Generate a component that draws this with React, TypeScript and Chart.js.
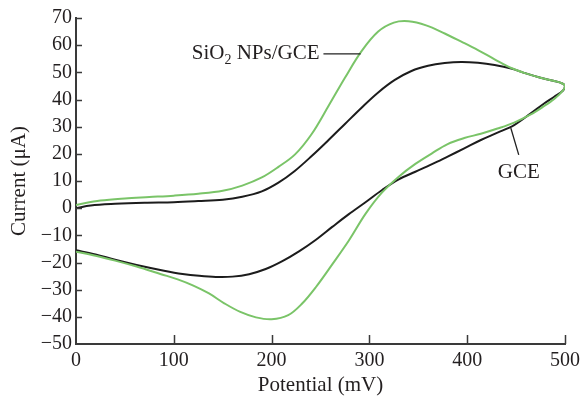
import React, { useEffect, useRef } from "react";
import { Chart, registerables } from "chart.js";

Chart.register(...registerables);

// SiO2 NPs/GCE voltammogram: forward scan 0 -> 500 mV, then reverse 500 -> 0 mV
const sio2Potential = [
  0, 25, 50, 75, 100, 125, 150, 170, 190, 207, 224, 241, 258, 275, 292, 309, 325, 340, 358, 377, 394, 411, 428, 445, 460, 475, 488, 496, 500,
  498, 489, 477, 465, 448, 431, 414, 397, 380, 364, 347, 330, 313, 296, 279, 262, 245, 231, 217, 200, 184, 168, 152, 136, 120, 104, 87, 62, 40, 20, 0,
];
const sio2Current = [
  1.2, 2.8, 3.6, 4.1, 4.6, 5.3, 6.4, 8.3, 11.3, 15.2, 19.8, 27.3, 37.5, 48, 57.8, 65, 68.3, 68.8, 67.3, 64.3, 61.3, 58.2, 54.8, 51.6, 49.6, 48, 46.9, 46.1, 45.1,
  43.4, 40.2, 37.2, 34.5, 31.5, 29.3, 27.4, 25.8, 23.6, 20.2, 16.3, 11.6, 5.8, -2.1, -11.9, -20.7, -29.2, -35.2, -39.4, -40.9, -40.2, -38.2, -35.1, -31.4, -28.5, -26.2, -24.3, -21.5, -19.3, -17.5, -16,
];

// GCE voltammogram
const gcePotential = [
  0, 15, 40, 70, 100, 125, 150, 170, 190, 207, 224, 241, 258, 275, 292, 309, 326, 343, 360, 377, 394, 411, 428, 445, 460, 475, 488, 496, 500,
  498, 489, 479, 464, 448, 431, 414, 397, 380, 364, 347, 330, 313, 296, 279, 262, 245, 228, 211, 194, 177, 160, 143, 126, 109, 90, 62, 40, 20, 0,
];
const gceCurrent = [
  0, 1.0, 1.6, 2.0, 2.2, 2.6, 3.1, 4.2, 6.2, 9.4, 13.8, 19.2, 25, 31, 37, 42.6, 47.2, 50.5, 52.4, 53.4, 53.8, 53.5, 52.7, 51.4, 49.6, 48, 46.9, 46.1, 45.1,
  43.3, 41, 38.6, 34.6, 30.6, 27.8, 25.1, 22, 19, 16.2, 13.4, 10.6, 6.7, 2.2, -2.2, -6.9, -11.7, -15.9, -19.5, -22.4, -24.3, -25.2, -25.3, -24.9, -24.2, -23, -20.9, -19, -17, -15.5,
];

const yTickValues = [-50, -40, -30, -20, -10, 0, 10, 20, 30, 40, 50, 60, 70];
const xTickValues = [0, 100, 200, 300, 400, 500];

const FONT = '"Liberation Serif", "DejaVu Serif", serif';
const GREEN = "rgb(122,196,104)";
const BLACK = "#1c1c1c";
const AXIS = "#3a3a3a";
const TEXT = "#231f20";

const toPoints = (xs: number[], ys: number[]) => xs.map((x, i) => ({ x, y: ys[i] }));

const annotationPlugin = {
  id: "annotations",
  afterDraw(chart: any) {
    const { ctx } = chart;
    const xs = chart.scales.x;
    const ys = chart.scales.y;
    const area = chart.chartArea;
    ctx.save();
    // inward tick marks
    ctx.strokeStyle = AXIS;
    ctx.lineWidth = 1.5;
    ctx.beginPath();
    yTickValues.forEach((v) => {
      if (v === -50) return;
      const py = Math.round(ys.getPixelForValue(v)) + 0.5;
      ctx.moveTo(area.left, py);
      ctx.lineTo(area.left + 6, py);
    });
    xTickValues.forEach((v) => {
      if (v === 0) return;
      const px = Math.round(xs.getPixelForValue(v)) + 0.5;
      ctx.moveTo(px, area.bottom);
      ctx.lineTo(px, area.bottom - 9);
    });
    ctx.stroke();

    // SiO2 NPs/GCE label
    ctx.fillStyle = TEXT;
    ctx.textBaseline = "middle";
    const fMain = `21px ${FONT}`;
    const fSub = `14px ${FONT}`;
    const ly = ys.getPixelForValue(56.8);
    const rightX = xs.getPixelForValue(249);
    ctx.font = fMain;
    const w1 = ctx.measureText("SiO").width;
    const w3 = ctx.measureText(" NPs/GCE").width;
    ctx.font = fSub;
    const w2 = ctx.measureText("2").width;
    const x0 = rightX - (w1 + w2 + w3);
    ctx.font = fMain;
    ctx.textAlign = "left";
    ctx.fillText("SiO", x0, ly);
    ctx.font = fSub;
    ctx.fillText("2", x0 + w1, ly + 6);
    ctx.font = fMain;
    ctx.fillText(" NPs/GCE", x0 + w1 + w2, ly);
    ctx.strokeStyle = "#222";
    ctx.lineWidth = 1.3;
    ctx.beginPath();
    ctx.moveTo(xs.getPixelForValue(253), ly);
    ctx.lineTo(xs.getPixelForValue(291), ly);
    ctx.stroke();

    // GCE label
    ctx.textAlign = "center";
    ctx.font = fMain;
    ctx.fillText("GCE", xs.getPixelForValue(452.7), ys.getPixelForValue(13.3));
    ctx.beginPath();
    ctx.moveTo(xs.getPixelForValue(444.6), ys.getPixelForValue(29.5));
    ctx.lineTo(xs.getPixelForValue(452.7), ys.getPixelForValue(19.6));
    ctx.stroke();
    ctx.restore();
  },
};

export default function App() {
  const canvasRef = useRef<HTMLCanvasElement | null>(null);

  useEffect(() => {
    document.body.style.margin = "0";
    const canvas = canvasRef.current;
    if (!canvas) return;
    const chart = new Chart(canvas, {
      type: "scatter",
      data: {
        datasets: [
          {
            label: "SiO2 NPs/GCE",
            data: toPoints(sio2Potential, sio2Current),
            showLine: true,
            borderColor: GREEN,
            backgroundColor: GREEN,
            borderWidth: 2,
            pointRadius: 0,
            tension: 0.35,
            fill: false,
          },
          {
            label: "GCE",
            data: toPoints(gcePotential, gceCurrent),
            showLine: true,
            borderColor: BLACK,
            backgroundColor: BLACK,
            borderWidth: 2,
            pointRadius: 0,
            tension: 0.35,
            fill: false,
          },
        ],
      },
      options: {
        animation: false,
        responsive: false,
        maintainAspectRatio: false,
        layout: { padding: { top: 18, right: 18, left: 0, bottom: 0 } },
        plugins: {
          legend: { display: false },
          tooltip: { enabled: false },
        },
        scales: {
          x: {
            type: "linear",
            min: 0,
            max: 500,
            grid: { display: false, drawTicks: false },
            border: { display: true, color: AXIS, width: 2 },
            ticks: {
              stepSize: 100,
              padding: 5,
              color: TEXT,
              font: { family: FONT, size: 20 },
              maxRotation: 0,
            },
            title: {
              display: true,
              text: "Potential (mV)",
              color: TEXT,
              font: { family: FONT, size: 21 },
              padding: { top: 0, bottom: 0 },
            },
            afterFit: (scale: any) => {
              scale.height = 54;
            },
          },
          y: {
            type: "linear",
            min: -50,
            max: 70,
            grid: { display: false, drawTicks: false },
            border: { display: true, color: AXIS, width: 2 },
            ticks: {
              stepSize: 10,
              padding: 4,
              color: TEXT,
              font: { family: FONT, size: 20 },
              callback: (v: any) => String(v).replace("-", "\u2212"),
            },
            title: {
              display: true,
              text: "Current (\u03bcA)",
              color: TEXT,
              font: { family: FONT, size: 21 },
              padding: { top: 7, bottom: 0 },
            },
            afterFit: (scale: any) => {
              scale.width = 76;
            },
          },
        },
      },
      plugins: [annotationPlugin],
    });
    return () => chart.destroy();
  }, []);

  return (
    <div style={{ width: 585, height: 398 }}>
      <canvas ref={canvasRef} width={585} height={398} style={{ display: "block" }} />
    </div>
  );
}
